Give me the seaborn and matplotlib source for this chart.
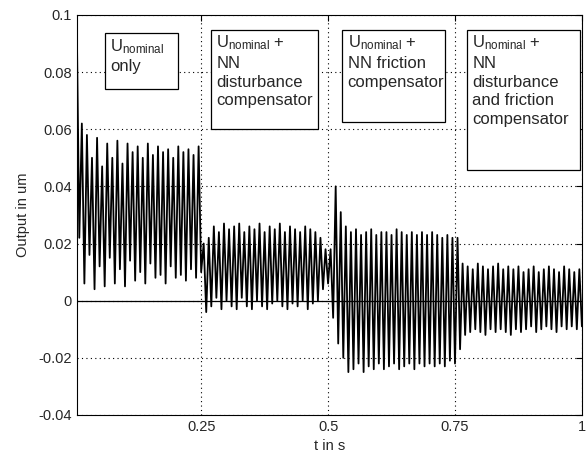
import numpy as np
import pandas as pd
import matplotlib
matplotlib.use('Agg')
import matplotlib.pyplot as plt
import seaborn as sns
from matplotlib.patches import Rectangle

# peak / trough values read per oscillation cycle (25 cycles per 0.25 s segment)
peaks1 = [0.097, 0.062, 0.058, 0.050, 0.057, 0.047, 0.055, 0.050, 0.056, 0.048, 0.055, 0.052, 0.054,
          0.050, 0.055, 0.051, 0.054, 0.052, 0.053, 0.050, 0.054, 0.052, 0.053, 0.051, 0.054]
troughs1 = [0.022, 0.006, 0.016, 0.004, 0.012, 0.005, 0.015, 0.006, 0.011, 0.005, 0.014, 0.007, 0.010,
            0.006, 0.013, 0.008, 0.009, 0.006, 0.012, 0.008, 0.009, 0.007, 0.011, 0.008, 0.010]
peaks2 = [0.020, 0.022, 0.026, 0.024, 0.027, 0.025, 0.026, 0.027, 0.024, 0.026, 0.025, 0.027, 0.024,
          0.026, 0.025, 0.027, 0.024, 0.026, 0.025, 0.024, 0.026, 0.025, 0.024, 0.022, 0.018]
troughs2 = [-0.004, -0.002, 0.001, -0.003, 0.000, -0.002, -0.003, 0.001, -0.002, -0.003, 0.000, -0.002, -0.003,
            -0.001, 0.000, -0.002, -0.003, -0.001, -0.002, 0.000, -0.003, -0.001, 0.000, 0.004, 0.006]
peaks3 = [0.018, 0.040, 0.031, 0.026, 0.024, 0.025, 0.023, 0.024, 0.025, 0.023, 0.024, 0.024, 0.023,
          0.025, 0.024, 0.023, 0.024, 0.023, 0.024, 0.023, 0.024, 0.023, 0.022, 0.023, 0.022]
troughs3 = [-0.006, -0.015, -0.020, -0.025, -0.024, -0.022, -0.025, -0.023, -0.024, -0.022, -0.024, -0.023, -0.022,
            -0.024, -0.023, -0.022, -0.024, -0.022, -0.023, -0.022, -0.023, -0.022, -0.023, -0.021, -0.022]
peaks4 = [0.022, 0.013, 0.012, 0.011, 0.013, 0.012, 0.011, 0.012, 0.013, 0.011, 0.012, 0.011, 0.012,
          0.010, 0.011, 0.012, 0.010, 0.011, 0.012, 0.011, 0.010, 0.012, 0.011, 0.010, 0.011]
troughs4 = [-0.017, -0.012, -0.011, -0.010, -0.011, -0.012, -0.010, -0.011, -0.010, -0.011, -0.012, -0.010, -0.011,
            -0.010, -0.009, -0.011, -0.010, -0.009, -0.010, -0.011, -0.009, -0.010, -0.009, -0.010, -0.009]

x_ticks = [0.25, 0.5, 0.75, 1]
x_tick_labels = ['0.25', '0.5', '0.75', '1']
y_ticks = [-0.04, -0.02, 0, 0.02, 0.04, 0.06, 0.08, 0.1]
y_tick_labels = ['-0.04', '-0.02', '0', '0.02', '0.04', '0.06', '0.08', '0.1']

box_texts = ['U$_{\\mathrm{nominal}}$\nonly',
             'U$_{\\mathrm{nominal}}$ +\nNN\ndisturbance\ncompensator',
             'U$_{\\mathrm{nominal}}$ +\nNN friction\ncompensator',
             'U$_{\\mathrm{nominal}}$ +\nNN\ndisturbance\nand friction\ncompensator']

# interleave peaks and troughs
values = []
for pk, tr in [(peaks1, troughs1), (peaks2, troughs2), (peaks3, troughs3), (peaks4, troughs4)]:
    for p, q in zip(pk, tr):
        values += [p, q]
t = np.linspace(0.005, 1, len(values))
df = pd.DataFrame({'t': t, 'y': values})

sns.set_style('white')
plt.rcParams['font.family'] = ['Liberation Sans', 'DejaVu Sans']
plt.rcParams['mathtext.fontset'] = 'custom'
plt.rcParams['mathtext.rm'] = 'Liberation Sans'
plt.rcParams['mathtext.it'] = 'Liberation Sans'

fig = plt.figure(figsize=(5.86, 4.53), dpi=100)
ax = fig.add_axes([0.131, 0.084, 0.862, 0.883])

sns.lineplot(data=df, x='t', y='y', color='black', linewidth=1.3, estimator=None, sort=False, ax=ax)
ax.axhline(0, color='black', linewidth=0.9)

ax.set_xlim(0.005, 1)
ax.set_ylim(-0.04, 0.1)
ax.set_xticks(x_ticks)
ax.set_xticklabels(x_tick_labels)
ax.set_yticks(y_ticks)
ax.set_yticklabels(y_tick_labels)
ax.tick_params(direction='in', length=4, labelsize=10.5, top=True, right=True, color='black')
ax.grid(True, linestyle=(0, (1, 3)), color='black', linewidth=0.8)
for s in ax.spines.values():
    s.set_color('black')
    s.set_linewidth(0.8)
ax.set_xlabel('t in s', fontsize=10.5)
ax.set_ylabel('Output in um', fontsize=10.5, labelpad=6)

# annotation boxes (axes fractions)
boxes = [(0.055, 0.815, 0.145, 0.140),
         (0.265, 0.715, 0.212, 0.248),
         (0.525, 0.733, 0.204, 0.230),
         (0.772, 0.613, 0.224, 0.350)]
for (bx, by, bw, bh), txt in zip(boxes, box_texts):
    ax.add_patch(Rectangle((bx, by), bw, bh, transform=ax.transAxes, facecolor='white',
                           edgecolor='black', linewidth=0.9, zorder=5))
    ax.text(bx + 0.011, by + bh - 0.010, txt, transform=ax.transAxes, fontsize=12,
            va='top', ha='left', linespacing=1.3, zorder=6)

fig.savefig('out.png', dpi=100)
